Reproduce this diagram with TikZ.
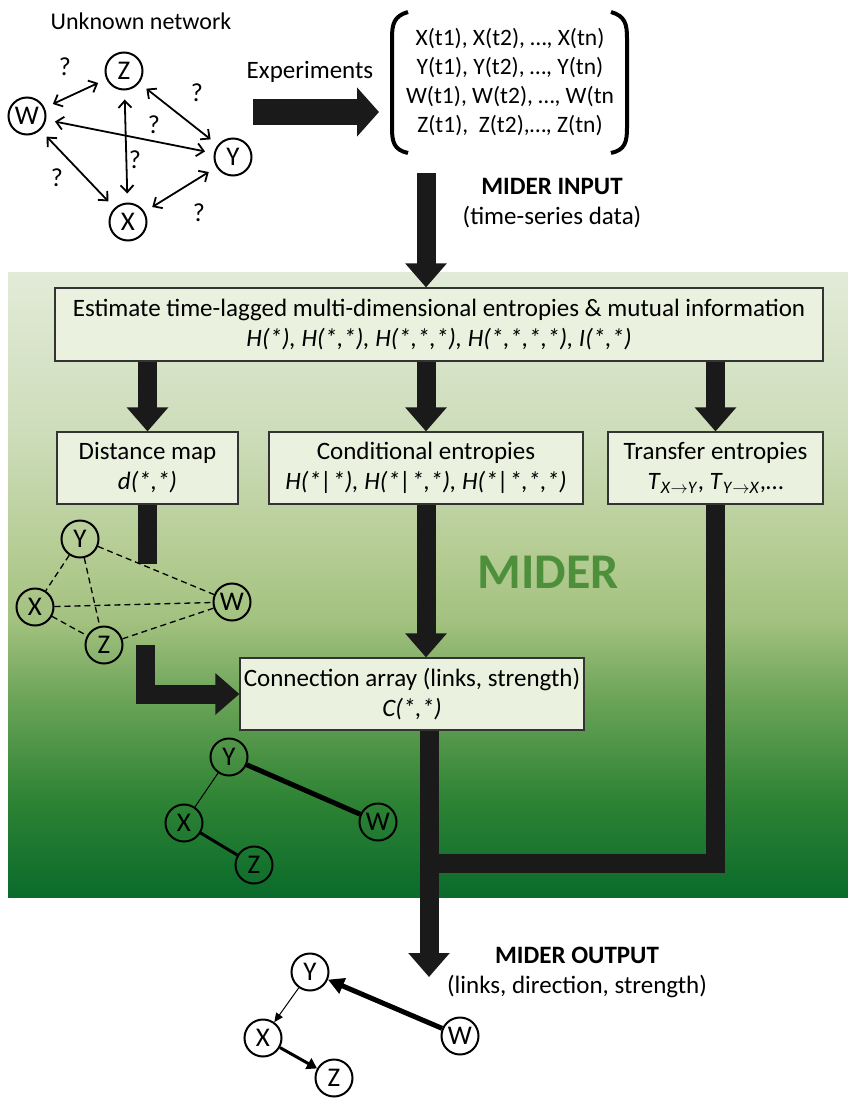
\documentclass[tikz,border=0pt]{standalone}
\usepackage{fontspec}
\setmainfont{Carlito}
\usetikzlibrary{arrows.meta,calc}
\definecolor{g0}{HTML}{0A6B2B}
\definecolor{g1}{HTML}{2E8334}
\definecolor{g2}{HTML}{6AA357}
\definecolor{g3}{HTML}{A2C17F}
\definecolor{g4}{HTML}{B3CB91}
\definecolor{g5}{HTML}{CCDCB8}
\definecolor{g6}{HTML}{E2EBD8}
\definecolor{boxfill}{HTML}{EBF1DF}
\definecolor{arrowc}{HTML}{1A1A1A}
\definecolor{midergreen}{HTML}{4E8F3C}
\pgfdeclareverticalshading{miderbg}{100bp}{color(0bp)=(g0); color(25bp)=(g0); color(32.8bp)=(g1); color(40.7bp)=(g2); color(47bp)=(g3); color(52bp)=(g4); color(61.5bp)=(g5); color(75bp)=(g6); color(100bp)=(g6)}
\newcommand{\fs}[1]{\fontsize{#1}{1.2\dimexpr#1pt\relax}\selectfont}
\tikzset{
  bigarrow/.style={draw=arrowc, line width=19pt, -{Triangle[length=24pt,width=40pt]}},
  bigbar/.style={draw=arrowc, line width=19pt, line join=miter},
  box/.style={draw=black!80, line width=1.1pt, fill=boxfill, align=center, font=\fs{25}, inner sep=0pt},
  gnode/.style={circle, draw=black, line width=2pt, minimum size=37pt, inner sep=0pt, font=\fs{27}},
  netarrow/.style={line width=1.8pt, {Straight Barb[length=7pt,width=13pt]}-{Straight Barb[length=7pt,width=13pt]}, shorten <=9pt, shorten >=9pt},
  qm/.style={font=\fs{26}},
  lbl/.style={font=\fs{25}, align=center},
  dashedge/.style={line width=1.3pt, dash pattern=on 6pt off 4pt},
}
\begin{document}
\begin{tikzpicture}[x=1pt,y=-1pt]
\useasboundingbox (0,0) rectangle (848,1098);
\fill[white] (0,0) rectangle (848,1098);
% background
\shade[shading=miderbg] (8,272) rectangle (848,897);

% Unknown network
\node[lbl, font=\fs{24}] (unk) at (141,21) {Unknown network};
\node[gnode] (nW) at (27,116) {W};
\node[gnode] (nZ) at (124,71) {Z};
\node[gnode] (nY) at (233,157) {Y};
\node[gnode] (nX) at (128,222) {X};
\draw[netarrow] (nW) -- (nZ);
\draw[netarrow] (nZ) -- (nY);
\draw[netarrow] (nW) -- (nY);
\draw[netarrow] (nZ) -- (nX);
\draw[netarrow] (nW) -- (nX);
\draw[netarrow] (nX) -- (nY);
\node[qm] (q1) at (65,67) {?};
\node[qm] (q2) at (197,93) {?};
\node[qm] (q3) at (154,125) {?};
\node[qm] (q4) at (135,160) {?};
\node[qm] (q5) at (57,178) {?};
\node[qm] (q6) at (199,213) {?};

% Experiments
\node[lbl] (exptxt) at (310,72) {Experiments};
\coordinate (expA) at (253,112);
\coordinate (expB) at (379,112);
\draw[draw=arrowc, line width=26pt, -{Triangle[length=22pt,width=48pt]}] (expA) -- (expB);

% data matrix
\node[lbl, font=\fs{23.5}, inner sep=0pt] (mat) at (510,82) {%
X(t1), X(t2), …, X(tn)\\[1pt]
Y(t1), Y(t2), …, Y(tn)\\[1pt]
W(t1), W(t2), …, W(tn\\[1pt]
Z(t1),\ \ Z(t2),…, Z(tn)};
\draw[line width=4pt] (408,12) .. controls (394,16) and (392,24) .. (392,38) -- (392,128) .. controls (392,142) and (394,150) .. (408,153);
\draw[line width=4pt] (611,12) .. controls (625,16) and (627,24) .. (627,38) -- (627,128) .. controls (627,142) and (625,150) .. (611,153);

\node[lbl] (inp) at (552,203) {\textbf{MIDER INPUT}\\(time-series data)};

% boxes
\node[box, minimum width=768pt, minimum height=73pt] (main) at (439,324.5)
  {Estimate time-lagged multi-dimensional entropies \& mutual information\\\textit{H(*), H(*,*), H(*,*,*), H(*,*,*,*), I(*,*)}};
\node[box, minimum width=181pt, minimum height=72pt] (dist) at (147.5,468)
  {Distance map\\\textit{d(*,*)}};
\node[box, minimum width=314pt, minimum height=72pt] (cond) at (426,468)
  {Conditional entropies\\\textit{H(*|*), H(*|*,*), H(*|*,*,*)}};
\node[box, minimum width=215pt, minimum height=72pt] (trans) at (715.5,468)
  {Transfer entropies\\\textit{T}\textsubscript{\textit{X}$\rightarrow$\textit{Y}}, \textit{T}\textsubscript{\textit{Y}$\rightarrow$\textit{X}},…};
\node[box, minimum width=344pt, minimum height=72pt] (conn) at (412,694)
  {Connection array (links, strength)\\\textit{C(*,*)}};

\node[font=\fs{50}\bfseries, text=midergreen] (mider) at (548,572) {MIDER};

% arrows
\coordinate (inTop) at (426,173);
\draw[bigarrow] (inTop) -- (main.north -| inTop);
\draw[bigarrow] (main.south -| dist.north) -- (dist.north);
\draw[bigarrow] (main.south -| cond.north) -- (cond.north);
\draw[bigarrow] (main.south -| trans.north) -- (trans.north);
\coordinate (distEnd) at (147.5,564);
\draw[bigbar] (dist.south) -- (distEnd);
\coordinate (lTop) at (145,645);
\draw[bigarrow, line join=miter] (lTop) -- (lTop |- conn.west) -- (conn.west);
\draw[bigarrow] (cond.south) -- (conn.north -| cond.south);
\coordinate (outTip) at (429,977);
\coordinate (joinPt) at (429,863);
\draw[bigbar] (trans.south) -- (trans.south |- joinPt) -- (joinPt);
\draw[bigarrow] (conn.south -| outTip) -- (outTip);

% distance graph
\node[gnode] (dY) at (80,539) {Y};
\node[gnode] (dX) at (35,607) {X};
\node[gnode] (dW) at (232,602) {W};
\node[gnode] (dZ) at (104,645) {Z};
\draw[dashedge] (dY) -- (dX);
\draw[dashedge] (dY) -- (dZ);
\draw[dashedge] (dY) -- (dW);
\draw[dashedge] (dX) -- (dW);
\draw[dashedge] (dX) -- (dZ);
\draw[dashedge] (dZ) -- (dW);

% connection graph
\node[gnode] (cY) at (229,757) {Y};
\node[gnode] (cX) at (184,823) {X};
\node[gnode] (cW) at (378,822) {W};
\node[gnode] (cZ) at (254,865) {Z};
\draw[line width=1pt] (cY) -- (cX);
\draw[line width=5pt] (cY) -- (cW);
\draw[line width=3pt] (cX) -- (cZ);

% output
\node[lbl] (outp) at (577,972) {\textbf{MIDER OUTPUT}\\(links, direction, strength)};
\node[gnode] (oY) at (310,972) {Y};
\node[gnode] (oX) at (263,1038) {X};
\node[gnode] (oW) at (460,1036) {W};
\node[gnode] (oZ) at (334,1078) {Z};
\draw[line width=1pt, -{Triangle[length=9pt,width=8pt]}] (oY) -- (oX);
\draw[line width=3pt, -{Triangle[length=10pt,width=12pt]}] (oX) -- (oZ);
\draw[line width=5pt, -{Triangle[length=16pt,width=16pt]}] (oW) -- (oY);
\end{tikzpicture}
\end{document}
